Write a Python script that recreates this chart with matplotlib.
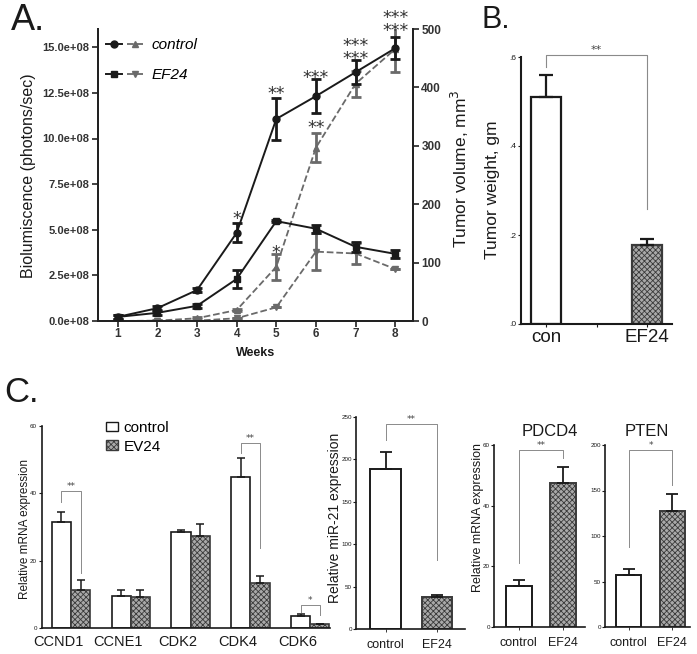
import matplotlib
matplotlib.use('Agg')
import matplotlib.pyplot as plt
import numpy as np
from matplotlib.lines import Line2D
from matplotlib.patches import Patch
from matplotlib.legend_handler import HandlerTuple
import matplotlib.transforms as mtrans

plt.rcParams['font.family'] = ['Liberation Sans', 'DejaVu Sans']
plt.rcParams['hatch.linewidth'] = 0.6

W, H = 697, 654

# ---------------- Panel A data ----------------
weeks = [1, 2, 3, 4, 5, 6, 7, 8]
vol_control = [7, 22, 53, 151, 346, 385, 426, 467]
vol_control_err = [3, 3, 3, 16, 36, 29, 21, 19]
vol_ef24 = [7, 14, 26, 72, 171, 158, 127, 115]
vol_ef24_err = [3, 3, 3, 16, 2, 7, 9, 7]
biolum_control = [0.0, 0.02, 0.15, 0.6, 2.97, 9.5, 13.0, 14.9]   # x 1e8 photons/sec
biolum_control_err = [0.05, 0.05, 0.05, 0.05, 0.7, 0.8, 0.7, 1.25]
biolum_ef24 = [0.0, 0.0, 0.02, 0.15, 0.75, 3.8, 3.7, 2.85]
biolum_ef24_err = [0.0, 0.0, 0.0, 0.0, 0.0, 1.0, 0.6, 0.0]
biolum_ticks = [0, 2.5, 5.0, 7.5, 10.0, 12.5, 15.0]
biolum_ticklabels = ['0.0e+08', '2.5e+08', '5.0e+08', '7.5e+08', '10.0e+08', '12.5e+08', '15.0e+08']
# significance marks (week, text, height in tumor-volume units)
starsA_week = [4, 5, 6, 7, 8, 5, 6]
starsA_text = ['*', '**', '***', '***\n***', '***\n***', '*', '**']
starsA_y = [185, 400, 426, 470.5, 518.5, 127, 341]

# ---------------- Panel B data ----------------
groupsB = ['con', 'EF24']
weightB = [0.51, 0.178]
weightB_err = [0.05, 0.014]

# ---------------- Panel C data ----------------
genes = ['CCND1', 'CCNE1', 'CDK2', 'CDK4', 'CDK6']
mrna_control = [31.6, 9.6, 28.4, 44.8, 3.6]
mrna_control_err = [3.0, 1.7, 0.6, 5.7, 0.6]
mrna_ev24 = [11.3, 9.2, 27.2, 13.4, 1.2]
mrna_ev24_err = [3.0, 2.1, 3.8, 2.1, 0.0]
sigC_idx = [0, 3, 4]
sigC_text = ['**', '**', '*']
sigC_y = [40.7, 55.0, 6.8]
sigC_left = [37.4, 52.0, 4.8]
sigC_right = [16.3, 23.8, 3.9]

groups2 = ['control', 'EF24']
mir21 = [188.7, 37.7]
mir21_err = [20.0, 2.3]
pdcd4 = [13.5, 47.4]
pdcd4_err = [2.0, 5.3]
pten = [57.0, 127.5]
pten_err = [6.7, 18.5]

BLACK = '#1a1a1a'
GREY = '#6a6a6a'
BR = '#8a8a8a'
HATCH_FC = '#a9a9a9'
HATCH_EC = '#3a3a3a'

fig = plt.figure(figsize=(W / 100, H / 100), dpi=100)


def add_ax(l, t, r, b):
    return fig.add_axes([l / W, 1 - b / H, (r - l) / W, (b - t) / H])


def style_bar_axes(ax, lw=1.3):
    for s in ['top', 'right']:
        ax.spines[s].set_visible(False)
    for s in ['left', 'bottom']:
        ax.spines[s].set_linewidth(lw)
        ax.spines[s].set_color(BLACK)
    ax.tick_params(axis='both', colors=BLACK, width=0.8, length=2.5, pad=1.2)
    ax.patch.set_alpha(0)


def bracket(ax, x1, x2, y, yl, yr, text, fs=7, lw=0.8):
    ax.plot([x1, x1, x2, x2], [yl, y, y, yr], color=BR, lw=lw, clip_on=False)
    ax.text((x1 + x2) / 2, y, text, ha='center', va='bottom', fontsize=fs,
            color='#444', family='DejaVu Sans', clip_on=False)


# ======================= Panel A =======================
axA = add_ax(98, 29, 413, 321)
axA2 = axA.twinx()
axA.set_xlim(0.5, 8.45)
axA.set_ylim(0, 16e8)
axA2.set_ylim(0, 500)

bc = np.array(biolum_control) * 1e8
bce = np.array(biolum_control_err) * 1e8
be = np.array(biolum_ef24) * 1e8
bee = np.array(biolum_ef24_err) * 1e8
axA.errorbar(weeks, bc, yerr=bce, color=GREY, ls='--', lw=1.3, marker='^', ms=5,
             capsize=3.5, elinewidth=2, capthick=2, zorder=2)
axA.errorbar(weeks, be, yerr=bee, color=GREY, ls='--', lw=1.3, marker='v', ms=5,
             capsize=3.5, elinewidth=2, capthick=2, zorder=2)
axA2.errorbar(weeks, vol_control, yerr=vol_control_err, color=BLACK, ls='-', lw=1.4,
              marker='o', ms=5, capsize=3.5, elinewidth=2, capthick=2, zorder=3)
axA2.errorbar(weeks, vol_ef24, yerr=vol_ef24_err, color=BLACK, ls='-', lw=1.4,
              marker='s', ms=5, capsize=3.5, elinewidth=2, capthick=2, zorder=3)

for wk, t, y in zip(starsA_week, starsA_text, starsA_y):
    axA2.annotate(t, (wk, y), xytext=(0, -4.5), textcoords='offset points',
                  ha='center', va='center', fontsize=12.5, color='#333',
                  family='DejaVu Sans', linespacing=0.6, multialignment='center',
                  annotation_clip=False)

axA.set_xticks(weeks)
axA.set_xticklabels([str(w) for w in weeks], fontsize=8.5, fontweight='bold', color='#333')
axA.set_yticks(np.array(biolum_ticks) * 1e8)
axA.set_yticklabels(biolum_ticklabels, fontsize=8, fontweight='bold', color='#333')
axA2.set_yticks([0, 100, 200, 300, 400, 500])
axA2.set_yticklabels(['0', '100', '200', '300', '400', '500'], fontsize=8.5,
                     fontweight='bold', color='#333')
for a in (axA, axA2):
    a.spines['top'].set_visible(False)
    for s in ['left', 'right', 'bottom']:
        a.spines[s].set_linewidth(1.4)
        a.spines[s].set_color('#222')
    a.tick_params(width=1.2, length=4, pad=2, color='#222')
axA.tick_params(axis='x', pad=1)

hc1 = Line2D([], [], color=BLACK, lw=1.4, marker='o', ms=5)
hc2 = Line2D([], [], color=GREY, lw=1.3, ls='--', marker='^', ms=5)
he1 = Line2D([], [], color=BLACK, lw=1.4, marker='s', ms=5)
he2 = Line2D([], [], color=GREY, lw=1.3, ls='--', marker='v', ms=5)
legA = axA2.legend([(hc1, hc2), (he1, he2)], ['control', 'EF24'],
                   handler_map={tuple: HandlerTuple(ndivide=None, pad=0.3)},
                   loc='upper left', bbox_to_anchor=(106 / W, 1 - 38 / H),
                   bbox_transform=fig.transFigure, frameon=False, borderpad=0,
                   borderaxespad=0, handlelength=2.4, handletextpad=0.6,
                   labelspacing=1.05, prop={'size': 11, 'style': 'italic'})

fig.text(29 / W, 1 - 176 / H, 'Biolumiscence (photons/sec)', rotation=90,
         ha='center', va='center', fontsize=11.5, color=BLACK)
fig.text(460 / W, 1 - 169 / H, 'Tumor volume, mm$^3$', rotation=90,
         ha='center', va='center', fontsize=12.5, color=BLACK)
fig.text(256 / W, 1 - 353 / H, 'Weeks', ha='center', va='center', fontsize=9,
         fontweight='bold', color=BLACK)
fig.text(11 / W, 1 - 30 / H, 'A.', fontsize=26, ha='left', va='baseline', color=BLACK)

# ======================= Panel B =======================
axB = add_ax(521, 57, 672, 324)
xB = np.arange(len(groupsB))
axB.bar(xB[0], weightB[0], width=0.3, color='white', edgecolor=BLACK, lw=1.6, zorder=2)
axB.bar(xB[1], weightB[1], width=0.3, color=HATCH_FC, edgecolor=HATCH_EC, lw=1.6,
        hatch='xxxxxx', zorder=2)
axB.errorbar(xB, weightB, yerr=[[0, 0], weightB_err], fmt='none', ecolor=BLACK,
             elinewidth=1.6, capsize=5, capthick=1.6, zorder=3)
axB.set_xlim(-0.25, 1.25)
axB.set_ylim(0, 0.6)
axB.set_yticks([0, 0.2, 0.4, 0.6])
axB.set_yticklabels(['.0', '.2', '.4', '.6'], fontsize=6)
axB.set_xticks([0, 0.5, 1])
axB.set_xticklabels(['con', '', 'EF24'], fontsize=13.5)
style_bar_axes(axB, lw=1.5)
bracket(axB, 0, 1, 0.605, 0.578, 0.258, '**', fs=8)
fig.text(492 / W, 1 - 190 / H, 'Tumor weight, gm', rotation=90, ha='center',
         va='center', fontsize=12.5, color=BLACK)
fig.text(482 / W, 1 - 28 / H, 'B.', fontsize=22, ha='left', va='baseline', color=BLACK)

# ======================= Panel C (left) =======================
axC = add_ax(42, 426, 330, 628)
xC = np.arange(len(genes))
bw = 0.32
axC.bar(xC - bw / 2, mrna_control, width=bw, color='white', edgecolor=BLACK, lw=1.2, zorder=2)
axC.bar(xC + bw / 2, mrna_ev24, width=bw, color=HATCH_FC, edgecolor=HATCH_EC, lw=1.2,
        hatch='xxxxxx', zorder=2)
axC.errorbar(xC - bw / 2, mrna_control, yerr=[np.zeros(5), mrna_control_err], fmt='none',
             ecolor=BLACK, elinewidth=1.1, capsize=3, capthick=1.1, zorder=3)
axC.errorbar(xC + bw / 2, mrna_ev24, yerr=[np.zeros(5), mrna_ev24_err], fmt='none',
             ecolor=BLACK, elinewidth=1.1, capsize=3, capthick=1.1, zorder=3)
for i, t, y, yl, yr in zip(sigC_idx, sigC_text, sigC_y, sigC_left, sigC_right):
    bracket(axC, i - bw / 2, i + bw / 2, y, yl, yr, t, fs=6.5, lw=0.7)
axC.set_xlim(-0.485, 4.33)
axC.set_ylim(0, 60)
axC.set_yticks([0, 20, 40, 60])
axC.set_yticklabels(['0', '20', '40', '60'], fontsize=4.5)
axC.set_xticks(xC)
axC.set_xticklabels(genes, fontsize=10.5)
style_bar_axes(axC, lw=1.2)
axC.tick_params(axis='x', length=0, pad=5)
shift = mtrans.ScaledTranslation(-13 / 100, 0, fig.dpi_scale_trans)
for lab in axC.get_xticklabels():
    lab.set_transform(lab.get_transform() + shift)
axC.legend([Patch(facecolor='white', edgecolor=BLACK, lw=1.0),
            Patch(facecolor=HATCH_FC, edgecolor=HATCH_EC, hatch='xxxxxx', lw=1.0)],
           ['control', 'EV24'], loc='upper left', bbox_to_anchor=(106 / W, 1 - 421 / H),
           bbox_transform=fig.transFigure, frameon=False, borderpad=0, borderaxespad=0,
           handlelength=0.8, handleheight=0.6, handletextpad=0.35, labelspacing=0.3,
           fontsize=11)
fig.text(25 / W, 1 - 529 / H, 'Relative mRNA expression', rotation=90, ha='center',
         va='center', fontsize=8.5, color=BLACK)
fig.text(4 / W, 1 - 402 / H, 'C.', fontsize=25, ha='left', va='baseline', color=BLACK)


# ======================= small bar panels =======================
def small_panel(box, vals, errs, xlim, ylim, yticks, bw2, bracket_spec, tick_fs=4.5):
    ax = add_ax(*box)
    x = np.arange(2)
    ax.bar(x[0], vals[0], width=bw2, color='white', edgecolor=BLACK, lw=1.4, zorder=2)
    ax.bar(x[1], vals[1], width=bw2, color=HATCH_FC, edgecolor=HATCH_EC, lw=1.4,
           hatch='xxxxxx', zorder=2)
    ax.errorbar(x, vals, yerr=[[0, 0], errs], fmt='none', ecolor=BLACK, elinewidth=1.3,
                capsize=4, capthick=1.3, zorder=3)
    ax.set_xlim(*xlim)
    ax.set_ylim(*ylim)
    ax.set_yticks(yticks)
    ax.set_yticklabels([str(v) for v in yticks], fontsize=tick_fs)
    ax.set_xticks(x)
    ax.set_xticklabels(groups2, fontsize=9)
    style_bar_axes(ax, lw=1.2)
    ax.tick_params(axis='y', length=2, pad=0.8)
    ax.tick_params(axis='x', length=2, width=0.6, pad=5)
    y, yl, yr, t = bracket_spec
    bracket(ax, 0, 1, y, yl, yr, t, fs=6.5, lw=0.7)
    return ax


small_panel((356, 417, 465, 629), mir21, mir21_err, (-0.58, 1.55), (0, 250),
            [0, 50, 100, 150, 200, 250], 0.6, (242, 223, 81, '**'))
fig.text(335 / W, 1 - 518 / H, 'Relative miR-21 expression', rotation=90, ha='center',
         va='center', fontsize=10, color=BLACK)

small_panel((494, 445, 585, 627), pdcd4, pdcd4_err, (-0.56, 1.49), (0, 60),
            [0, 20, 40, 60], 0.58, (58.3, 21, 55.7, '**'))
fig.text(478 / W, 1 - 518 / H, 'Relative mRNA expression', rotation=90, ha='center',
         va='center', fontsize=9, color=BLACK)
fig.text(550 / W, 1 - 432 / H, 'PDCD4', ha='center', va='center', fontsize=12, color=BLACK)

small_panel((605, 445, 690, 627), pten, pten_err, (-0.55, 1.41), (0, 200),
            [0, 50, 100, 150, 200], 0.58, (194.5, 88, 156, '*'))
fig.text(647 / W, 1 - 432 / H, 'PTEN', ha='center', va='center', fontsize=12, color=BLACK)

fig.savefig('out.png', dpi=100)
